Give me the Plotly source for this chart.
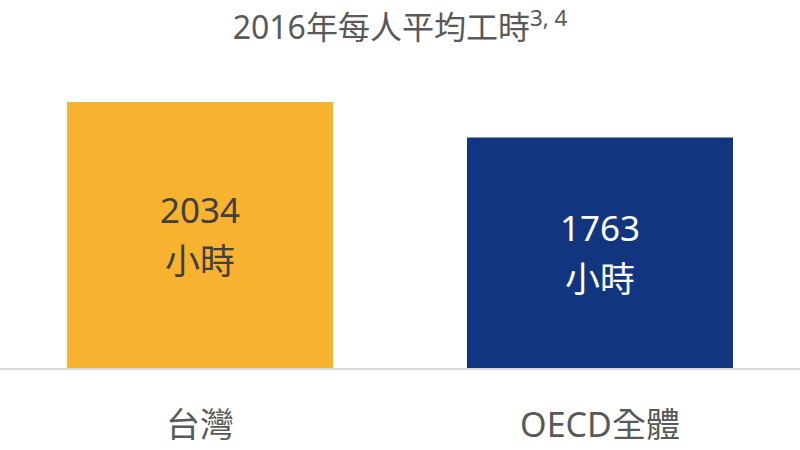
import plotly.graph_objects as go

# Data
categories = ["台灣", "OECD全體"]
hours = [2034, 1763]
unit = "小時"
title_text = "2016年每人平均工時<sup>3, 4</sup>"

# Styles
bar_colors = ["#F7B32F", "#12357F"]
text_colors = ["#404040", "#FFFFFF"]
font_family = "Noto Sans, Noto Sans CJK TC, sans-serif"

# base font size sets line spacing (1.3em), inner spans set visible size
labels = [
    f"<span style='font-size:35px'>{h}</span><br><span style='font-size:35px'>{unit}</span>"
    for h in hours
]

fig = go.Figure()
fig.add_trace(go.Bar(
    x=categories, y=hours,
    width=0.665,
    marker=dict(color=bar_colors, line=dict(width=0)),
    text=labels, textposition="inside", insidetextanchor="middle",
    textfont=dict(size=39, color=text_colors, family=font_family),
    hoverinfo="skip",
))

fig.update_layout(
    width=800, height=450,
    margin=dict(l=0, r=0, t=60, b=82),
    paper_bgcolor="white", plot_bgcolor="white",
    showlegend=False,
    title=dict(text=title_text, x=0.5, xanchor="center",
               y=0.938, yanchor="middle",
               font=dict(size=32, color="#595959", family=font_family)),
    xaxis=dict(showline=True, linecolor="#D9D9D9", linewidth=1.5,
               ticks="outside", ticklen=26, tickcolor="rgba(0,0,0,0)",
               tickfont=dict(size=34, color="#595959", family=font_family),
               showgrid=False, zeroline=False, fixedrange=True),
    yaxis=dict(range=[0, 2355], visible=False, showgrid=False,
               zeroline=False, fixedrange=True),
    uniformtext=dict(minsize=10, mode="show"),
)

# drop the browser's default body margin so the chart sits at 0,0
fig.write_html("out.html", config=dict(displayModeBar=False),
               post_script="document.body.style.margin='0';")
